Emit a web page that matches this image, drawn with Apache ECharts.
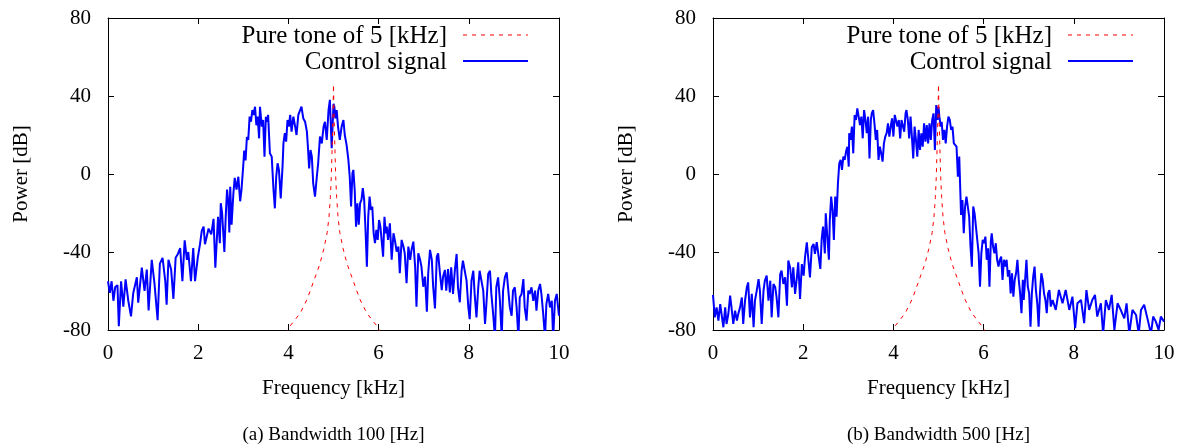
<!DOCTYPE html>
<html>
<head>
<meta charset="utf-8">
<script src="https://cdn.jsdelivr.net/npm/echarts@6/dist/echarts.min.js"></script>
<style>html,body{margin:0;padding:0;background:#fff}#c{width:1184px;height:448px}</style>
</head>
<body>
<div id="c"></div>
<script>
// ---- Data ----
const xTicks = [0, 2, 4, 6, 8, 10];
const yTicks = [-80, -40, 0, 40, 80];
const seriesNames = ['Pure tone of 5 [kHz]', 'Control signal'];
const captions = ['(a) Bandwidth 100 [Hz]', '(b) Bandwidth 500 [Hz]'];

// Pure tone of 5 kHz (same in both panels)
const toneFreq = [3.96,4.0,4.14,4.27,4.42,4.56,4.70,4.79,4.86,4.90,4.93,4.95,4.97,4.99,5.0,5.01,5.03,5.05,5.07,5.10,5.14,5.21,5.30,5.44,5.58,5.73,5.86,6.0,6.04];
const tonePower = [-82,-79,-75,-71,-64,-55,-46,-38,-30,-22,-12,-2,14,32,46,32,14,-2,-12,-22,-30,-38,-46,-55,-64,-71,-75,-79,-82];

// (a) Control signal, bandwidth 100 Hz
const freqA = [0.00,0.04,0.08,0.12,0.16,0.21,0.24,0.29,0.34,0.39,0.45,0.51,0.56,0.64,0.67,0.75,0.81,0.86,0.90,0.97,1.03,1.10,1.15,1.21,1.27,1.30,1.34,1.40,1.45,1.50,1.55,1.60,1.65,1.70,1.75,1.78,1.84,1.89,1.93,1.99,2.04,2.08,2.12,2.15,2.19,2.23,2.29,2.34,2.38,2.44,
2.48,2.50,2.53,2.58,2.61,2.64,2.67,2.69,2.71,2.74,2.78,2.81,2.85,2.89,2.93,2.96,3.00,3.02,3.05,3.08,3.11,3.14,3.17,3.20,3.23,3.26,3.29,3.32,3.35,3.37,3.41,3.44,3.47,3.50,3.52,3.55,3.59,3.63,3.67,3.70,3.73,3.76,3.79,3.83,3.87,3.89,3.92,3.95,3.98,4.01,4.04,4.07,4.11,4.15,4.18,4.22,4.26,4.29,4.33,4.37,4.41,4.43,4.46,4.49,4.52,4.55,4.59,4.63,4.66,4.70,4.74,4.78,4.81,4.85,4.89,4.92,4.96,
5.00,5.02,5.04,5.07,5.10,5.14,5.18,5.22,5.25,5.29,5.33,5.36,5.39,5.42,5.44,5.47,5.50,5.53,5.56,5.59,5.62,5.65,5.68,5.71,5.74,5.77,5.80,5.83,5.86,5.89,5.92,5.95,5.98,6.01,6.04,6.07,6.10,6.13,6.16,6.18,6.21,6.25,6.29,6.33,6.36,6.40,6.44,6.47,6.51,6.55,6.58,6.62,6.66,6.70,6.73,6.77,6.81,6.84,6.88,6.92,6.95,6.99,7.03,7.07,7.10,7.14,7.18,7.21,7.25,7.29,7.32,7.36,7.40,7.43,7.47,
7.50,7.54,7.58,7.61,7.65,7.69,7.73,7.76,7.80,7.84,7.87,7.91,7.95,7.99,8.02,8.06,8.10,8.13,8.17,8.21,8.24,8.28,8.32,8.36,8.39,8.43,8.47,8.50,8.54,8.58,8.61,8.65,8.69,8.73,8.76,8.80,8.84,8.87,8.91,8.95,8.98,9.02,9.06,9.10,9.13,9.17,9.21,9.24,9.28,9.32,9.35,9.39,9.43,9.47,9.50,9.54,9.58,9.61,9.65,9.69,9.72,9.76,9.80,9.84,9.87,9.91,9.95,9.98,10.0];
const powerA = [-55,-61,-55,-65,-58,-57,-78,-55,-68,-54,-65,-73,-61,-53,-66,-48,-60,-49,-70,-44,-56,-75,-46,-43,-55,-67,-44,-49,-64,-43,-41,-38,-55,-34,-44,-40,-55,-38,-55,-43,-36,-29,-27,-36,-32,-28,-31,-23,-48,-22,
-35.5,-15,-20,-40,-22,-8,-15,-30,-6.5,-26,-10,-2,-8,-1.4,-14,-8,4.6,12,7,19,17.5,29.4,26.8,32.8,30.3,34.5,25,29.4,18.3,34.5,24.3,27.7,8.9,29.4,26.8,30.3,10.6,8.9,-8.2,-17.6,-1.4,5.5,2.1,-12.5,3.8,15.7,20.9,16.6,27.7,24.3,30.3,21.7,29.4,24.3,20,30.3,32.8,34.5,28.5,26.8,21.7,14.9,2.9,12.3,8.9,-4.8,-11.6,-1.4,5.5,19.2,15.7,24.3,26.8,17.5,32.8,38,13.2,
36,34.5,28.5,32.8,24.3,17.5,24.3,27.7,20,14.9,7.2,-1.4,-16.7,0.4,2.1,-8.2,-27,-15,-26,-15,-13.3,-7.3,-13.3,-28.7,-47.5,-22,-11.6,-18.4,-16.7,-30.4,-35.5,-28.7,-33.8,-23.6,-27,-34.7,-42.4,-22,-30.4,-27,-33.8,-25.3,-44,-30.4,-33.8,-39.8,-37.2,-50.9,-33.8,-37.2,-40.7,-56,-37.2,-44,-38.9,-34.7,-47.5,-68,-40.7,-44,-47.5,-57.8,-52.6,-70.6,-50.9,-38.9,-44,-57.8,-68.9,-42.4,-40.7,-50.9,-59.5,-52.6,-49.2,
-59.8,-48.7,-60.7,-47.9,-61.5,-49.6,-41,-58.1,-65.8,-49.6,-44.4,-49.6,-54.7,-68.4,-74.4,-54.7,-49.6,-61.5,-73.5,-58.1,-49.6,-48.7,-59.8,-76.9,-66.7,-51.3,-49.6,-61.5,-71.8,-84,-58.1,-53,-65,-84,-59.8,-53,-50.4,-58.1,-68.4,-72.7,-59.8,-58.1,-68.4,-84,-63.3,-61.5,-53.9,-68.4,-75.2,-59.8,-61.5,-58.1,-65,-59.8,-70.1,-59.8,-56.4,-61.5,-71.8,-84,-66.7,-61.5,-68.4,-65,-84,-65,-61.5,-68.4,-72.7];

// (b) Control signal, bandwidth 500 Hz
const freqB = [0.00,0.04,0.08,0.12,0.16,0.19,0.23,0.27,0.30,0.34,0.38,0.41,0.45,0.49,0.53,0.56,0.60,0.64,0.67,0.71,0.75,0.78,0.82,0.86,0.90,0.93,0.97,1.01,1.04,1.08,1.12,1.15,1.19,1.23,1.27,1.30,1.34,1.38,1.41,1.45,1.49,1.52,1.56,1.60,1.64,1.67,1.71,1.75,1.78,1.82,1.86,1.89,1.93,1.97,2.01,2.04,2.08,2.12,2.15,2.19,2.23,2.26,2.30,2.34,2.38,2.41,2.44,
2.48,2.50,2.53,2.57,2.59,2.62,2.65,2.68,2.71,2.74,2.77,2.80,2.83,2.86,2.89,2.92,2.95,2.98,3.01,3.02,3.05,3.08,3.11,3.14,3.17,3.20,3.23,3.26,3.29,3.32,3.35,3.38,3.41,3.44,3.47,3.50,3.52,3.55,3.58,3.61,3.64,3.67,3.70,3.73,3.76,3.79,3.82,3.85,3.88,3.91,3.94,3.97,4.00,4.03,4.06,4.09,4.12,4.15,4.18,4.21,4.24,4.27,4.29,4.32,4.35,4.38,4.41,4.44,4.47,4.50,4.53,4.56,4.59,4.62,4.65,4.68,4.71,4.74,4.77,4.80,4.83,4.86,4.89,4.92,4.95,4.98,
5.00,5.02,5.05,5.07,5.10,5.13,5.16,5.19,5.22,5.25,5.28,5.31,5.34,5.37,5.40,5.43,5.46,5.49,5.50,5.53,5.56,5.59,5.62,5.65,5.68,5.71,5.74,5.77,5.80,5.83,5.86,5.89,5.92,5.95,5.98,6.01,6.04,6.07,6.10,6.13,6.16,6.18,6.21,6.24,6.27,6.30,6.33,6.36,6.39,6.42,6.45,6.48,6.51,6.54,6.57,6.60,6.63,6.66,6.69,6.72,6.75,6.78,6.81,6.84,6.87,6.89,6.92,6.95,6.98,7.01,7.04,7.07,7.10,7.13,7.16,7.19,7.22,7.25,7.28,7.31,7.34,7.37,7.40,7.43,7.46,7.49,
7.53,7.60,7.67,7.75,7.82,7.90,7.97,8.03,8.08,8.16,8.23,8.28,8.34,8.41,8.47,8.52,8.60,8.65,8.71,8.78,8.84,8.90,8.97,9.04,9.12,9.17,9.23,9.30,9.38,9.44,9.49,9.56,9.64,9.71,9.76,9.82,9.88,9.93,10.0];
const powerB = [-62,-73.5,-68.4,-75.2,-66.7,-65.8,-78.6,-68.4,-76.9,-71.8,-62.4,-68.4,-76.9,-70.1,-75.2,-71.8,-68.4,-63.3,-76.9,-65,-58.1,-55.6,-73.5,-61.5,-78.6,-65,-59.8,-53.9,-59.8,-76.9,-59.8,-54.7,-52.1,-65,-54.7,-73.5,-56.4,-58.1,-63.3,-73.5,-51.3,-49.6,-56.4,-53,-67.5,-44.4,-47.9,-58.1,-47.9,-61.5,-53,-45.3,-64.1,-46.2,-52.1,-42.7,-35,-35.9,-53,-37.6,-35.9,-41,-35,-35.9,-48.7,-33.3,-27,
-40.7,-20.2,-30.4,-44,-23.6,-11.6,-18.4,-33.8,-11.6,-21.9,-4.8,5.5,7.2,2.1,8.9,7.2,11.5,14,3.8,20.9,17.5,24.3,10.6,30.3,27.7,33.7,32.8,25.1,29.4,18.3,32.8,27.7,20.9,29.4,8,27.7,31.1,32.8,26,17.5,22.6,7.2,14,10.6,6.3,15.7,19.2,20.9,26,19.2,24.3,28.5,19.2,30.3,31.1,24.3,27.7,18.3,27.7,26.8,21.7,31.1,32.8,27.7,18.3,29.4,19.2,8,24.3,17.5,8.9,22.6,12.3,20.9,14,26,16.6,25.1,15.7,26,17.5,27.7,31.1,12.3,35.4,27.7,
34.5,29.4,24.3,26.8,17.5,22.6,15.7,24.3,29.4,27.7,22.6,24.3,15.7,14.9,14,-1.4,8.9,-13.3,-21,-13.3,-30.4,-16.7,-11.6,-11.6,-21.9,-37.2,-47.5,-16.7,-20.2,-27,-26.1,-40.7,-57.8,-40.7,-33.8,-35.5,-32.1,-44,-38.1,-57.8,-34.7,-30.4,-37.2,-40.7,-35.5,-44,-47.5,-44,-42.4,-54.3,-44,-47.5,-44,-52.6,-49.2,-61.2,-50.9,-62.9,-54.3,-50.9,-44,-54.3,-61.2,-71.4,-54.3,-64.6,-54.3,-44,-57.8,-61.2,-78.3,-61.2,-52.6,-47.5,-59.5,-66.3,-78.3,-61.2,-50.9,-54.3,-61.2,-64.6,-71.4,-61.2,-59.5,-68,
-64.6,-69.7,-59.5,-66.3,-59.5,-69.7,-62.9,-79,-66.3,-64.6,-76.5,-59.5,-69.7,-64.6,-62,-73.1,-66.3,-82,-64.6,-69.7,-62,-80,-66.3,-69.7,-74,-66.3,-82,-69.7,-72.3,-82,-69.7,-67.1,-74.8,-82,-73.1,-75.7,-80,-73.1,-75.7];

// ---- Build chart ----
const zip = (xs, ys) => xs.map((x, i) => [x, ys[i]]);
const FF = 'Liberation Serif';
const gridLefts = [108, 713];
const plotW = 451, plotTop = 18, plotH = 312;

function bottomX(i) {
  return {
    type: 'value', gridIndex: i, position: 'bottom', min: 0, max: 10, interval: 2,
    name: 'Frequency [kHz]', nameLocation: 'middle', nameGap: 48,
    nameTextStyle: { fontFamily: FF, fontSize: 21, color: '#000' },
    axisLine: { show: true, onZero: false, lineStyle: { color: '#000', width: 1 } },
    axisTick: { show: true, inside: true, length: 6, lineStyle: { color: '#000' } },
    axisLabel: { fontFamily: FF, fontSize: 21, color: '#000', margin: 13, showMinLabel: true, showMaxLabel: true },
    splitLine: { show: false }
  };
}
function topX(i) {
  return {
    type: 'value', gridIndex: i, position: 'top', min: 0, max: 10, interval: 2,
    axisLine: { show: true, onZero: false, lineStyle: { color: '#000', width: 1 } },
    axisTick: { show: true, inside: true, length: 6, lineStyle: { color: '#000' } },
    axisLabel: { show: false }, splitLine: { show: false }
  };
}
function leftY(i) {
  return {
    type: 'value', gridIndex: i, position: 'left', min: -80, max: 80, interval: 40,
    name: 'Power [dB]', nameLocation: 'middle', nameGap: 76, nameRotate: 90,
    nameTextStyle: { fontFamily: FF, fontSize: 21, color: '#000' },
    axisLine: { show: true, onZero: false, lineStyle: { color: '#000', width: 1 } },
    axisTick: { show: true, inside: true, length: 6, lineStyle: { color: '#000' } },
    axisLabel: { fontFamily: FF, fontSize: 21, color: '#000', margin: 17, showMinLabel: true, showMaxLabel: true },
    splitLine: { show: false }
  };
}
function rightY(i) {
  return {
    type: 'value', gridIndex: i, position: 'right', min: -80, max: 80, interval: 40,
    axisLine: { show: true, onZero: false, lineStyle: { color: '#000', width: 1 } },
    axisTick: { show: true, inside: true, length: 6, lineStyle: { color: '#000' } },
    axisLabel: { show: false }, splitLine: { show: false }
  };
}

const controlData = [zip(freqA, powerA), zip(freqB, powerB)];
const toneData = zip(toneFreq, tonePower);

const series = [];
const graphics = [];
[0, 1].forEach(i => {
  series.push({
    name: seriesNames[1], type: 'line', xAxisIndex: i, yAxisIndex: i,
    data: controlData[i], symbol: 'none', showSymbol: false, clip: true,
    lineStyle: { color: '#0000ff', width: 2 }, z: 2
  });
  series.push({
    name: seriesNames[0], type: 'line', xAxisIndex: i, yAxisIndex: i,
    data: toneData, symbol: 'none', showSymbol: false, clip: true,
    lineStyle: { color: '#ff0000', width: 1, type: [4, 5] }, z: 3
  });
  const gl = gridLefts[i];
  const textRight = gl + 339, lineX1 = gl + 355, lineX2 = gl + 420;
  graphics.push({ type: 'text', x: textRight, y: 36, style: { text: seriesNames[0], fontFamily: FF, fontSize: 25, fill: '#000', align: 'right', verticalAlign: 'middle' } });
  graphics.push({ type: 'line', shape: { x1: lineX1, y1: 35, x2: lineX2, y2: 35 }, style: { stroke: '#ff0000', lineWidth: 1, lineDash: [4, 5] } });
  graphics.push({ type: 'text', x: textRight, y: 62, style: { text: seriesNames[1], fontFamily: FF, fontSize: 25, fill: '#000', align: 'right', verticalAlign: 'middle' } });
  graphics.push({ type: 'line', shape: { x1: lineX1, y1: 61, x2: lineX2, y2: 61 }, style: { stroke: '#0000ff', lineWidth: 2 } });
  graphics.push({ type: 'text', x: gl + plotW / 2, y: 435, style: { text: captions[i], fontFamily: FF, fontSize: 19, fill: '#000', align: 'center', verticalAlign: 'middle' } });
});

const chart = echarts.init(document.getElementById('c'), null, { renderer: 'canvas', width: 1184, height: 448 });
chart.setOption({
  animation: false,
  backgroundColor: '#fff',
  grid: gridLefts.map(l => ({ left: l, top: plotTop, width: plotW, height: plotH, containLabel: false, show: false })),
  xAxis: [bottomX(0), bottomX(1), topX(0), topX(1)],
  yAxis: [leftY(0), leftY(1), rightY(0), rightY(1)],
  series: series,
  graphic: graphics
});
</script>
</body>
</html>
